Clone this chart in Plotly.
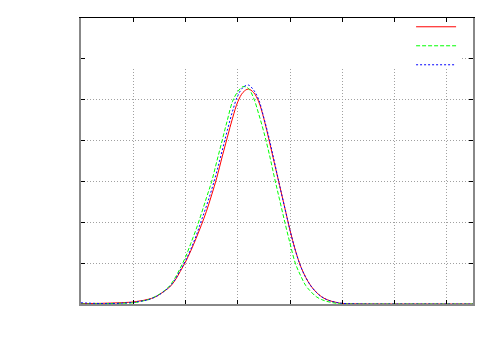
import plotly.graph_objects as go

# Sample positions and series values
x_vals = [0, 0.5,
          1.0, 1.1, 1.2, 1.3, 1.4, 1.5, 1.6, 1.7, 1.8, 1.9,
          2.0, 2.1, 2.2, 2.3, 2.4, 2.5, 2.6, 2.7, 2.8, 2.9,
          3.0, 3.1, 3.2, 3.3, 3.4, 3.5, 3.6, 3.7, 3.8, 3.9,
          4.0, 4.1, 4.2, 4.3, 4.4, 4.5, 4.6, 4.7, 4.8, 4.9,
          5.0, 5.5, 6.0, 6.5, 7.0, 7.5]

red_y = [0.01, 0.02,
         0.05, 0.07, 0.09, 0.12, 0.16, 0.23, 0.32, 0.42, 0.58, 0.80,
         1.03, 1.30, 1.60, 1.92, 2.27, 2.67, 3.10, 3.60, 4.08, 4.55,
         4.95, 5.18, 5.26, 5.18, 4.95, 4.53, 4.00, 3.45, 2.90, 2.35,
         1.80, 1.32, 0.93, 0.65, 0.44, 0.29, 0.18, 0.11, 0.065, 0.035,
         0.015, 0, 0, 0, 0, 0]

green_y = [0.0, 0.01,
           0.03, 0.05, 0.08, 0.11, 0.17, 0.24, 0.33, 0.45, 0.64, 0.88,
           1.15, 1.48, 1.82, 2.20, 2.60, 3.00, 3.50, 4.00, 4.50, 4.96,
           5.20, 5.32, 5.28, 5.05, 4.65, 4.20, 3.68, 3.10, 2.55, 2.00,
           1.48, 1.00, 0.70, 0.45, 0.30, 0.18, 0.11, 0.065, 0.035, 0.015,
           0.005, 0, 0, 0, 0, 0]

blue_y = [0.03, 0.01,
          0.04, 0.06, 0.08, 0.11, 0.16, 0.23, 0.32, 0.43, 0.60, 0.83,
          1.06, 1.34, 1.66, 2.03, 2.40, 2.80, 3.25, 3.75, 4.25, 4.72,
          5.10, 5.30, 5.36, 5.24, 5.00, 4.55, 4.05, 3.48, 2.90, 2.35,
          1.80, 1.32, 0.93, 0.65, 0.44, 0.29, 0.18, 0.11, 0.065, 0.035,
          0.015, 0, 0, 0, 0, 0]

x_range = [0, 7.5]
y_range = [0, 7]
grid_hide_y = 5.78
grid_hide_x = 7.29

fig = go.Figure()
fig.add_trace(go.Scatter(x=x_vals, y=red_y, mode="lines", name=" ",
                         line=dict(color="#ff0000", width=1, shape="spline", smoothing=1)))
fig.add_trace(go.Scatter(x=x_vals, y=green_y, mode="lines", name=" ",
                         line=dict(color="#00ff00", width=1, dash="4px,2px", shape="spline", smoothing=1)))
fig.add_trace(go.Scatter(x=x_vals, y=blue_y, mode="lines", name=" ",
                         line=dict(color="#0000ff", width=1, dash="2px,2px", shape="spline", smoothing=1)))

# hide grid in the top band (as in the reference)
fig.add_shape(type="rect", x0=x_range[0], x1=grid_hide_x, y0=grid_hide_y, y1=y_range[1],
              xref="x", yref="y", fillcolor="white", line=dict(width=0), layer="between")

grid_style = dict(showgrid=True, gridcolor="#a0a0a0", griddash="1px,2px", gridwidth=1)

fig.update_layout(
    width=500, height=350,
    margin=dict(l=73, r=35, t=10, b=54, autoexpand=False),
    paper_bgcolor="white", plot_bgcolor="white",
    showlegend=True,
    legend=dict(x=0.99, xanchor="right", y=1.02, yanchor="top", bgcolor="rgba(0,0,0,0)",
                itemwidth=40, font=dict(size=8), tracegroupgap=0),
    xaxis=dict(range=x_range, dtick=1, showticklabels=False, ticks="inside", ticklen=4,
               tickcolor="black", showline=True, linecolor="#888888", linewidth=2, mirror=False,
               zeroline=False, **grid_style),
    xaxis2=dict(range=x_range, dtick=1, overlaying="x", side="top", showticklabels=False,
                ticks="inside", ticklen=4, tickcolor="black", showline=True, linecolor="black",
                linewidth=1, showgrid=False, zeroline=False),
    yaxis=dict(range=y_range, dtick=1, showticklabels=False, ticks="inside", ticklen=4,
               tickcolor="black", showline=True, linecolor="#888888", linewidth=2, mirror="ticks",
               zeroline=False, **grid_style),
)
# an invisible trace to activate the top axis
fig.add_trace(go.Scatter(x=[x_range[0]], y=[y_range[0]], xaxis="x2", mode="lines",
                         showlegend=False, hoverinfo="skip", line=dict(width=0)))

fig.write_html("out.html")
